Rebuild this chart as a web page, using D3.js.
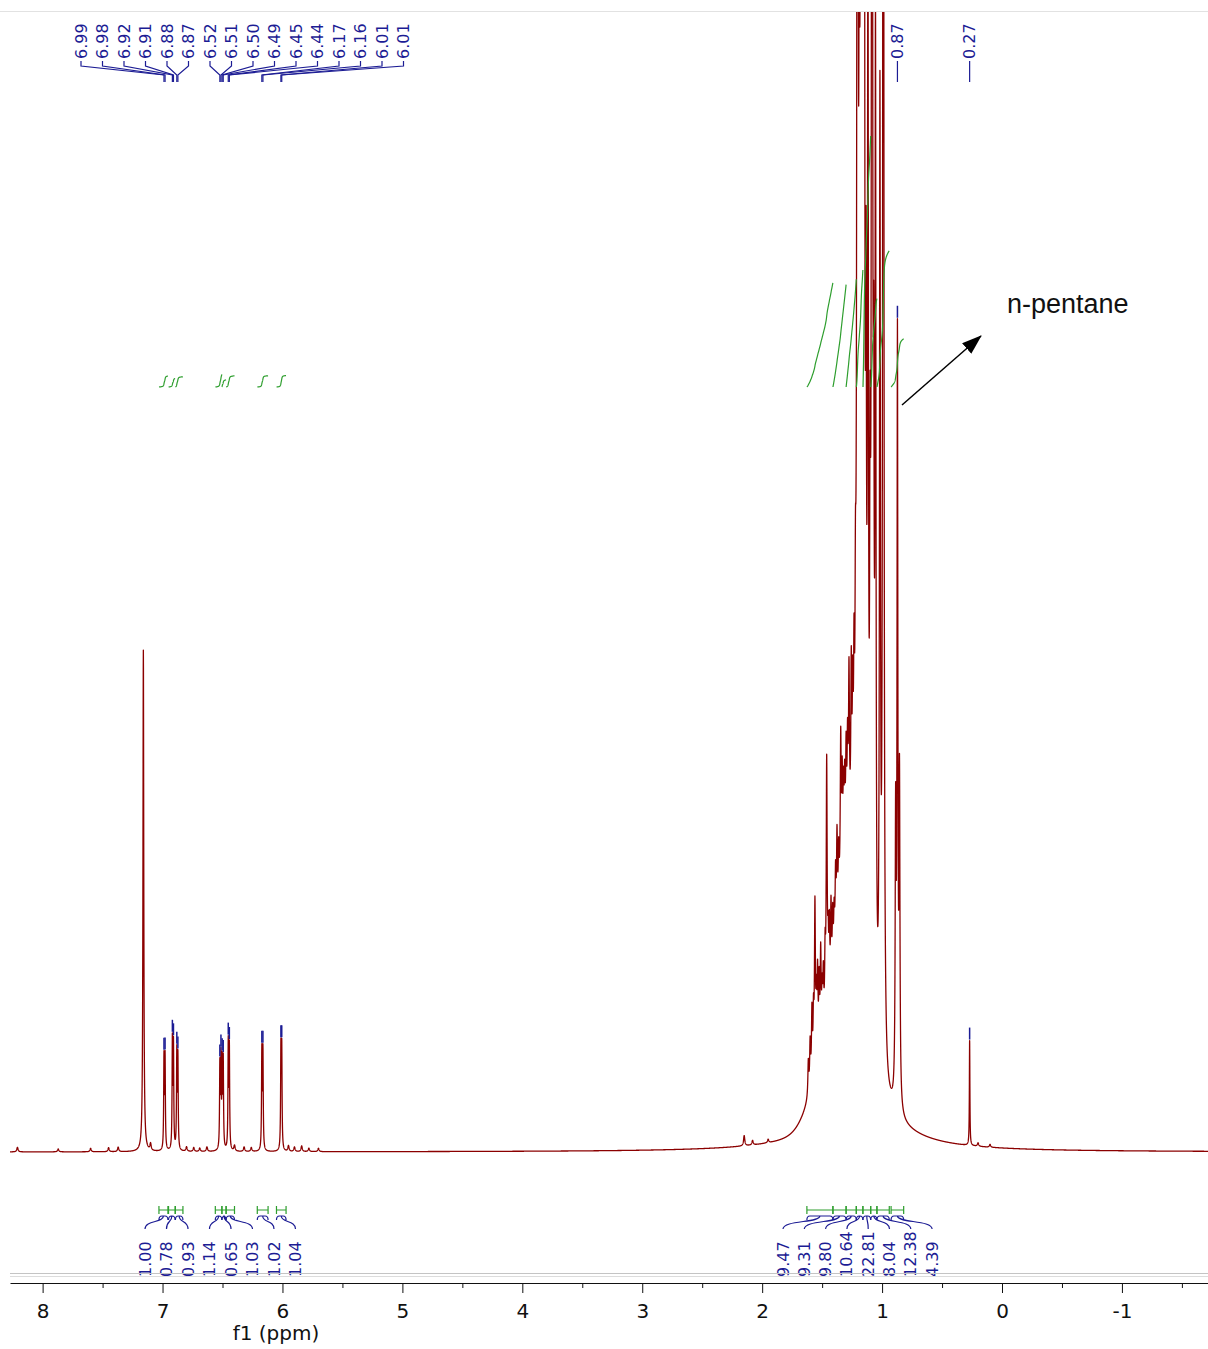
<!DOCTYPE html>
<html>
<head>
<meta charset="utf-8">
<script src="https://cdn.jsdelivr.net/npm/d3@7"></script>
<style>
  body { margin: 0; background: #fff; }
  svg { display: block; }
</style>
</head>
<body>
<svg id="nmr" width="1208" height="1349"></svg>
<script>
// ---- data (ppm / relative intensity) ----

// peak-picked aromatic lines
const aromaticPpm = [6.988, 6.979, 6.918, 6.909, 6.881, 6.872, 6.522, 6.513, 6.503, 6.494, 6.452, 6.443, 6.172, 6.163, 6.013, 6.006]
const aromaticHeight = [8.0, 8.0, 9.4, 9.0, 8.4, 8.0, 7.2, 7.6, 7.2, 7.6, 9.2, 8.8, 8.6, 8.6, 8.6, 8.6]
const aromaticWidth = 0.003

// peak-picked lines on the right (n-pentane, grease)
const rightPickedPpm = [0.872, 0.270]
const rightPickedHeight = [66, 9.2]
const rightPickedWidth = [0.004, 0.0025]

// residual C6D6
const solventPpm = [7.160]
const solventHeight = [44]
const solventWidth = 0.004

// aliphatic multiplet forest
const aliphaticPpm = [1.615, 1.600, 1.585, 1.572, 1.560, 1.548, 1.538, 1.525, 1.512, 1.500, 1.490, 1.475,
  1.462, 1.450, 1.440, 1.426, 1.412, 1.400, 1.388, 1.376, 1.362, 1.345, 1.333, 1.322, 1.312, 1.300,
  1.288, 1.276, 1.257, 1.245, 1.234, 1.222, 1.205, 1.190, 1.176, 1.163, 1.151, 1.134, 1.118, 1.100,
  1.084, 1.070, 1.055, 1.018, 0.990, 0.887, 0.855]
const aliphaticHeight = [3, 4, 6, 5, 14, 5, 7, 6, 8, 4, 5, 6,
  22, 5, 6, 7, 5, 4, 6, 8, 5, 13, 8, 6, 6, 8,
  8, 14, 14, 11, 13, 15, 200, 55, 200, 70, 200, 45, 88, 35,
  200, 40, 84, 82, 200, 24, 28]
const aliphaticWidth = 0.0045

// broad envelope under the aliphatic lines
const broadPpm = [1.28, 1.47]
const broadHeight = [18, 5]
const broadSigma = [0.09, 0.12]
const humpPpm = 1.2
const humpHeight = 5.5
const humpWidth = 0.3

// small baseline bumps
const smallPpm = [8.21, 7.87, 7.60, 7.45, 7.37, 7.10, 6.80, 6.74, 6.69, 6.63, 6.40, 6.32, 6.26,
  5.95, 5.90, 5.84, 5.78, 5.70, 2.15, 2.08, 1.95, 0.20, 0.10]
const smallHeight = [0.4, 0.25, 0.3, 0.35, 0.4, 0.6, 0.4, 0.35, 0.3, 0.4, 0.5, 0.4, 0.35,
  0.5, 0.4, 0.5, 0.3, 0.3, 0.9, 0.4, 0.3, 0.3, 0.25]
const smallWidth = 0.006

// integrals
const integralValues = [1.00, 0.78, 0.93, 1.14, 0.65, 1.03, 1.02, 1.04,
  9.47, 9.31, 9.80, 10.64, 22.81, 8.04, 12.38, 4.39]
const integralFrom = [7.030, 6.950, 6.893, 6.560, 6.505, 6.470, 6.210, 6.050,
  1.627, 1.410, 1.300, 1.215, 1.160, 1.095, 1.043, 0.925]
const integralTo = [6.955, 6.895, 6.830, 6.505, 6.470, 6.400, 6.120, 5.970,
  1.410, 1.300, 1.215, 1.160, 1.095, 1.043, 0.940, 0.820]

// axis
const majorTicks = [8, 7, 6, 5, 4, 3, 2, 1, 0, -1]
const minorTicks = [7.5, 6.5, 5.5, 4.5, 3.5, 2.5, 1.5, 0.5, -0.5, -1.5]

// ---- drawing ----
const red = '#8b0000'
const blue = '#1c1c94'
const green = '#2e9e2e'
const font = 'DejaVu Sans'

const svg = d3.select('#nmr')
const x = d3.scaleLinear().domain([8.272, -1.726]).range([10, 1209])
const y = d3.scaleLinear().domain([0, 100]).range([1152, 12])
const iy = d3.scaleLinear().domain([0, 30]).range([387, 57])   // integral curve scale

// line list
const lines = []
aromaticPpm.forEach((p, i) => lines.push([p, aromaticHeight[i], aromaticWidth]))
rightPickedPpm.forEach((p, i) => lines.push([p, rightPickedHeight[i], rightPickedWidth[i]]))
solventPpm.forEach((p, i) => lines.push([p, solventHeight[i], solventWidth]))
aliphaticPpm.forEach((p, i) => lines.push([p, aliphaticHeight[i], aliphaticWidth]))
smallPpm.forEach((p, i) => lines.push([p, smallHeight[i], smallWidth]))

function intensity (p) {
  let v = 0
  for (const [c, h, w] of lines) {
    const d = (p - c) / w
    v += h / (1 + d * d)
  }
  broadPpm.forEach((c, i) => {
    const d = (p - c) / broadSigma[i]
    v += broadHeight[i] * Math.exp(-0.5 * d * d)
  })
  const dh = (p - humpPpm) / humpWidth
  v += humpHeight / (1 + dh * dh)
  return v
}

const grid = d3.range(x.domain()[0], x.domain()[1], -0.0008).concat(lines.map(l => l[0]))
grid.sort((a, b) => b - a)
const spectrum = grid.map(p => ({ ppm: p, v: intensity(p) }))

// frame lines
svg.append('line')
  .attr('x1', 0).attr('x2', 1208).attr('y1', 11.5).attr('y2', 11.5)
  .attr('stroke', '#e2e2e2')

svg.append('clipPath').attr('id', 'plotClip')
  .append('rect').attr('x', 10).attr('y', 12).attr('width', 1199).attr('height', 1160)

// spectrum
const specLine = d3.line().x(d => x(d.ppm)).y(d => y(d.v))
svg.append('path')
  .datum(spectrum)
  .attr('clip-path', 'url(#plotClip)')
  .attr('d', specLine)
  .attr('fill', 'none')
  .attr('stroke', red)
  .attr('stroke-width', 1.3)
  .attr('stroke-linejoin', 'round')

// integral curves (cumulative over each range)
integralValues.forEach((val, i) => {
  const pts = spectrum.filter(d => d.ppm <= integralFrom[i] && d.ppm >= integralTo[i])
  let acc = 0
  const cum = pts.map((d, j) => {
    if (j > 0) acc += (d.v + pts[j - 1].v) / 2 * (pts[j - 1].ppm - d.ppm)
    return { ppm: d.ppm, c: acc }
  })
  const total = acc || 1
  svg.append('path')
    .datum(cum)
    .attr('d', d3.line().x(d => x(d.ppm)).y(d => iy(d.c / total * val)))
    .attr('fill', 'none')
    .attr('stroke', green)
    .attr('stroke-width', 1.2)
})

// peak pick markers and labels
const picked = aromaticPpm.map((p, i) => ({ ppm: p, lx: 81 + 21.5 * i }))
  .concat(rightPickedPpm.map(p => ({ ppm: p, lx: x(p) })))

picked.forEach(d => {
  const px = x(d.ppm)
  const top = y(intensity(d.ppm))
  svg.append('line')
    .attr('x1', px).attr('x2', px).attr('y1', top - 13).attr('y2', top - 1)
    .attr('stroke', blue).attr('stroke-width', 1.5)
  svg.append('path')
    .attr('d', `M${d.lx},61V66L${px},75V82`)
    .attr('fill', 'none').attr('stroke', blue).attr('stroke-width', 1.2)
  svg.append('text')
    .attr('transform', `translate(${d.lx},59) rotate(-90)`)
    .attr('dominant-baseline', 'central')
    .attr('font-family', font).attr('font-size', 16)
    .attr('fill', blue)
    .text(d.ppm.toFixed(2))
})

// integral range markers, braces and values
const integralLabelX = integralValues.map((v, i) => i < 8 ? 145 + 21.5 * i : 783 + 21.3 * (i - 8))
integralValues.forEach((val, i) => {
  const xa = x(integralFrom[i])
  const xb = x(integralTo[i])
  const xm = (xa + xb) / 2
  const lx = integralLabelX[i]
  svg.append('path')
    .attr('d', `M${xa},1206V1214M${xa},1210H${xb}M${xb},1206V1214`)
    .attr('fill', 'none').attr('stroke', green).attr('stroke-width', 1.2)
  svg.append('path')
    .attr('d', `M${xa},1220Q${xa},1216 ${xa + 3},1216H${xb - 3}Q${xb},1216 ${xb},1220` +
      `M${xm},1216C${xm},1223 ${lx},1220 ${lx},1229`)
    .attr('fill', 'none').attr('stroke', blue).attr('stroke-width', 1.2)
  svg.append('text')
    .attr('transform', `translate(${lx},1277) rotate(-90)`)
    .attr('dominant-baseline', 'central')
    .attr('font-family', font).attr('font-size', 16)
    .attr('fill', blue)
    .text(val.toFixed(2))
})

// grey integral base lines
svg.append('line').attr('x1', 10).attr('x2', 1208).attr('y1', 1273.5).attr('y2', 1273.5).attr('stroke', '#c4c4c4')
svg.append('line').attr('x1', 10).attr('x2', 1208).attr('y1', 1276.5).attr('y2', 1276.5).attr('stroke', '#dcdcdc')

// x axis
const axisG = svg.append('g').attr('transform', 'translate(0,1283)')
axisG.call(d3.axisBottom(x).tickValues(majorTicks).tickSize(10).tickPadding(11)
  .tickSizeOuter(0).tickFormat(d => String(d)))
axisG.selectAll('text').attr('font-family', font).attr('font-size', 20).attr('fill', '#111')
axisG.selectAll('line, path').attr('stroke', '#111')

const minorG = svg.append('g').attr('transform', 'translate(0,1283)')
minorG.call(d3.axisBottom(x).tickValues(minorTicks).tickSize(5).tickFormat(''))
minorG.select('.domain').remove()
minorG.selectAll('line').attr('stroke', '#111')

svg.append('text')
  .attr('x', 276).attr('y', 1340)
  .attr('text-anchor', 'middle')
  .attr('font-family', font).attr('font-size', 20).attr('fill', '#111')
  .text('f1 (ppm)')

// n-pentane annotation
svg.append('defs').append('marker')
  .attr('id', 'arrowHead')
  .attr('viewBox', '0 0 20 14').attr('refX', 19).attr('refY', 7)
  .attr('markerWidth', 20).attr('markerHeight', 14)
  .attr('markerUnits', 'userSpaceOnUse')
  .attr('orient', 'auto')
  .append('path').attr('d', 'M0,0L20,7L0,14Z').attr('fill', '#000')

svg.append('line')
  .attr('x1', 902).attr('y1', 405).attr('x2', 981).attr('y2', 336)
  .attr('stroke', '#000').attr('stroke-width', 1.5)
  .attr('marker-end', 'url(#arrowHead)')

svg.append('text')
  .attr('x', 1007).attr('y', 313)
  .attr('font-family', 'Liberation Sans').attr('font-size', 27).attr('fill', '#111')
  .text('n-pentane')
</script>
</body>
</html>
